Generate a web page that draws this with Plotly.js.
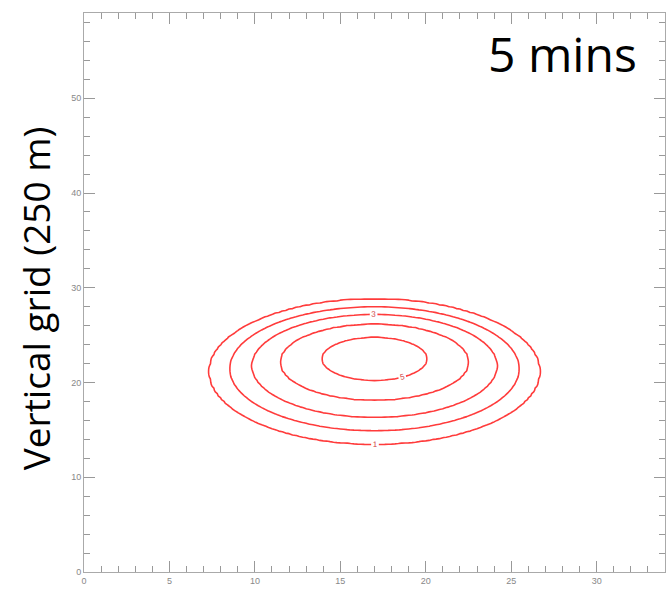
<!DOCTYPE html>
<html>
<head>
<meta charset="utf-8">
<script src="https://cdn.plot.ly/plotly-3.0.1.min.js"></script>
<style>html,body{margin:0;padding:0;background:#fff;}</style>
</head>
<body>
<div id="chart" style="width:666px;height:590px;"></div>
<script>
// Contour levels and the ellipse each one traces (grid units)
const levels  = [1, 2, 3, 4, 5];
const centerX = [17.0, 17.0, 17.0, 17.0, 17.0];
const centerY = [21.15, 21.45, 21.75, 22.15, 22.5];
const semiX   = [9.65, 8.48, 7.2, 5.55, 3.1];
const semiY   = [7.65, 6.55, 5.45, 4.05, 2.3];
const labelledLevels = [1, 3, 5];
const plainLevels = [2, 4];

const xTickVals = [0, 5, 10, 15, 20, 25, 30];
const yTickVals = [0, 10, 20, 30, 40, 50];
const titleText = 'Vertical grid (250 m)';
const panelText = '5 mins';

// Build the field the contour trace needs from the read ellipses
const step = 0.2;
const xs = [], ys = [];
for (let x = 3; x <= 31.001; x += step) xs.push(+x.toFixed(2));
for (let y = 9; y <= 33.001; y += step) ys.push(+y.toFixed(2));
function rho(k, x, y) {
  const dx = (x - centerX[k]) / semiX[k], dy = (y - centerY[k]) / semiY[k];
  return Math.sqrt(dx * dx + dy * dy);
}
const z = ys.map(y => xs.map(x => {
  const r = levels.map((_, k) => rho(k, x, y));
  if (r[0] >= 1) return levels[0] / (r[0] * r[0]);
  let k = 0;
  while (k + 1 < levels.length && r[k + 1] < 1) k++;
  if (k === levels.length - 1) return levels[k] + (1 - r[k]);
  const a = 1 - r[k], b = r[k + 1] - 1;
  return levels[k] + (levels[k + 1] - levels[k]) * a / (a + b);
}));

const red = '#ff3b3b';
const common = {
  type: 'contour', x: xs, y: ys, z: z,
  colorscale: [[0, red], [1, red]], showscale: false,
  line: {width: 1.6, color: red, smoothing: 0},
  hoverinfo: 'skip'
};
const traces = [
  Object.assign({}, common, {
    contours: {coloring: 'lines', start: labelledLevels[0], end: labelledLevels[labelledLevels.length - 1],
               size: labelledLevels[1] - labelledLevels[0], showlabels: true,
               labelfont: {family: 'Liberation Sans', size: 8, color: '#d04040'}}
  }),
  Object.assign({}, common, {
    contours: {coloring: 'lines', start: plainLevels[0], end: plainLevels[plainLevels.length - 1],
               size: plainLevels[1] - plainLevels[0], showlabels: false}
  })
];

const axisCommon = {
  ticks: 'inside', ticklen: 11, tickwidth: 1, tickcolor: '#999',
  showline: true, linecolor: '#aaa', linewidth: 1, mirror: 'ticks',
  showgrid: false, zeroline: false,
  tickfont: {family: 'Liberation Sans', size: 9, color: '#888'}
};
const layout = {
  width: 666, height: 590,
  margin: {l: 84, r: 1, t: 13, b: 18},
  paper_bgcolor: '#fff', plot_bgcolor: '#fff',
  showlegend: false,
  xaxis: Object.assign({}, axisCommon, {
    range: [0, 34], tickmode: 'array', tickvals: xTickVals, ticktext: xTickVals.map(String),
    minor: {dtick: 1, tick0: 0, ticks: 'inside', ticklen: 6, tickcolor: '#999', showgrid: false}
  }),
  yaxis: Object.assign({}, axisCommon, {
    range: [0, 59], tickmode: 'array', tickvals: yTickVals, ticktext: yTickVals.map(String),
    minor: {dtick: 2, tick0: 0, ticks: 'inside', ticklen: 6, tickcolor: '#999', showgrid: false}
  }),
  annotations: [
    {text: titleText, xref: 'paper', yref: 'paper', x: -0.084, y: 0.49,
     xanchor: 'center', yanchor: 'middle', textangle: -90, showarrow: false,
     font: {family: 'Open Sans', size: 37, color: '#000'}},
    {text: panelText, xref: 'paper', yref: 'paper', x: 0.824, y: 0.928,
     xanchor: 'center', yanchor: 'middle', showarrow: false,
     font: {family: 'Open Sans', size: 48, color: '#000'}}
  ]
};
Plotly.newPlot('chart', traces, layout, {staticPlot: true, displayModeBar: false});
</script>
</body>
</html>
